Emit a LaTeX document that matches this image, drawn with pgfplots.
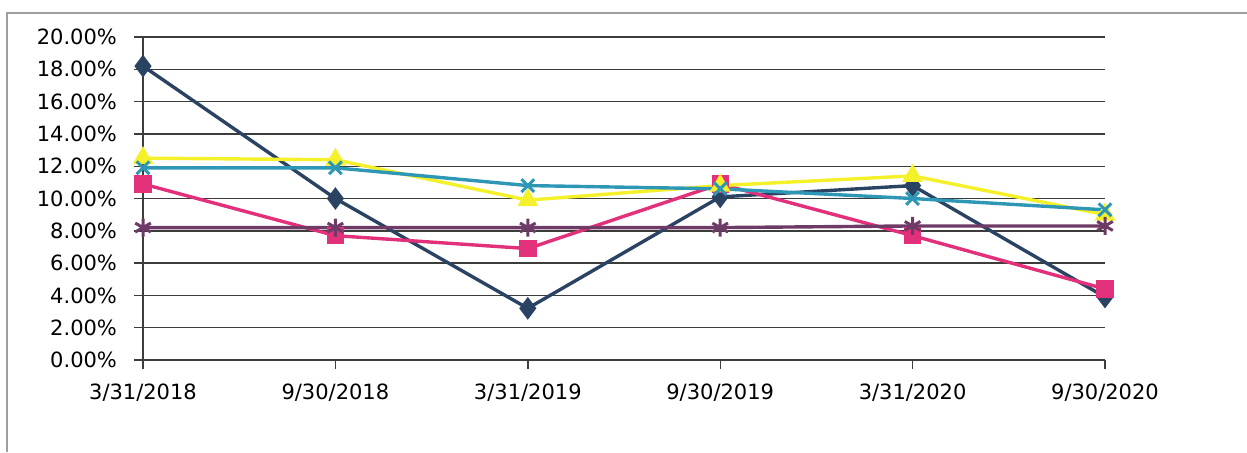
\documentclass[border=0pt]{standalone}
\usepackage{pgfplots}
\pgfplotsset{compat=1.18}
\usepackage{fontspec}
\setmainfont{DejaVu Sans}
\definecolor{sNavy}{HTML}{2B4363}
\definecolor{sPink}{HTML}{E2307A}
\definecolor{sYellow}{HTML}{F4F02A}
\definecolor{sTeal}{HTML}{2E97B6}
\definecolor{sPurple}{HTML}{6E3A66}
\definecolor{gridc}{HTML}{3C3C3C}
\begin{document}
\begin{tikzpicture}
\path[use as bounding box] (0,0) rectangle (623.5pt,226pt);
\draw[gray!75, line width=0.9pt] (3.5pt,0) -- (3.5pt,219.5pt) -- (623.5pt,219.5pt);
\begin{axis}[
  at={(71.5pt,46pt)}, anchor=south west,
  scale only axis,
  width=481pt, height=161.5pt,
  xmin=0, xmax=5, ymin=0, ymax=20,
  axis x line*=bottom, axis y line*=left,
  axis line style={gridc, line width=0.7pt},
  xtick={0,1,2,3,4,5},
  xticklabels={3/31/2018,9/30/2018,3/31/2019,9/30/2019,3/31/2020,9/30/2020},
  ytick={0,2,...,20},
  yticklabels={0.00\%,2.00\%,4.00\%,6.00\%,8.00\%,10.00\%,12.00\%,14.00\%,16.00\%,18.00\%,20.00\%},
  tick align=outside,
  major tick length=4.5pt,
  tick style={gridc, line width=0.7pt},
  ymajorgrids,
  grid style={gridc, line width=0.7pt},
  every tick label/.append style={font=\fontsize{10.5}{12}\selectfont, text=black},
  yticklabel style={xshift=-5pt},
  xticklabel style={yshift=-4pt},
  clip=false,
  every axis plot/.append style={line width=1.7pt},
]
\addplot[sNavy, mark=diamond*, mark size=4.3pt, mark options={fill=sNavy}] coordinates {(0,18.2)(1,10.0)(2,3.2)(3,10.1)(4,10.8)(5,3.9)};
\addplot[sPink, mark=square*, mark size=3.5pt, mark options={fill=sPink}] coordinates {(0,10.9)(1,7.7)(2,6.9)(3,10.9)(4,7.7)(5,4.4)};
\addplot[sYellow, mark=triangle*, mark size=4.3pt, mark options={fill=sYellow}] coordinates {(0,12.5)(1,12.4)(2,9.9)(3,10.8)(4,11.4)(5,9.0)};
\addplot[sTeal, mark=x, mark size=4.5pt, mark options={line width=1.5pt}] coordinates {(0,11.9)(1,11.9)(2,10.8)(3,10.6)(4,10.0)(5,9.3)};
\addplot[sPurple, mark=asterisk, mark size=4.5pt, mark options={line width=1.5pt}] coordinates {(0,8.2)(1,8.2)(2,8.2)(3,8.2)(4,8.3)(5,8.3)};
\end{axis}
\end{tikzpicture}
\end{document}
